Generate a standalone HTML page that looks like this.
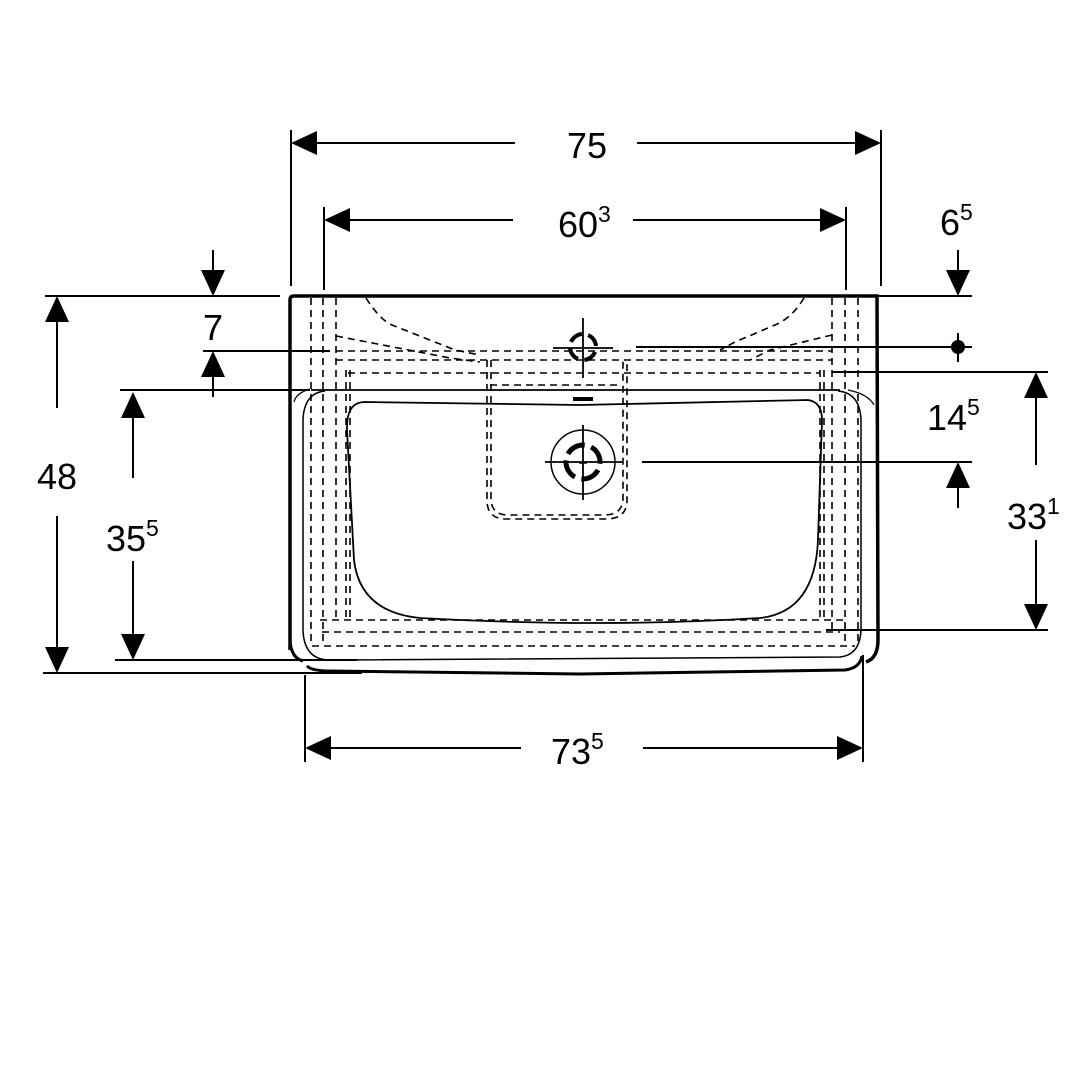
<!DOCTYPE html>
<html><head><meta charset="utf-8"><style>
html,body{margin:0;padding:0;background:#fff}
svg{display:block}
text{font-family:"Liberation Sans",Arial,sans-serif;fill:#000}
</style></head><body>
<svg width="1080" height="1080" viewBox="0 0 1080 1080" xmlns="http://www.w3.org/2000/svg">
<g stroke="#000" stroke-width="2" fill="none">
<!-- extension lines -->
<line x1="291" y1="130" x2="291" y2="286"/>
<line x1="881" y1="130" x2="881" y2="286"/>
<line x1="324" y1="207" x2="324" y2="290"/>
<line x1="846" y1="207" x2="846" y2="290"/>
<line x1="305" y1="675" x2="305" y2="762"/>
<line x1="863" y1="655" x2="863" y2="762"/>
<line x1="45" y1="296" x2="280" y2="296"/>
<line x1="878" y1="296" x2="972" y2="296"/>
<line x1="203" y1="351" x2="330" y2="351"/>
<line x1="636" y1="347" x2="972" y2="347"/>
<line x1="120" y1="390" x2="310" y2="390"/>
<line x1="832" y1="372" x2="1048" y2="372"/>
<line x1="642" y1="462" x2="972" y2="462"/>
<line x1="826" y1="630" x2="1048" y2="630"/>
<line x1="115" y1="660" x2="357" y2="660"/>
<line x1="43" y1="673" x2="362" y2="673"/>
<!-- dim lines -->
<line x1="317" y1="143" x2="515" y2="143"/><line x1="637" y1="143" x2="855" y2="143"/>
<line x1="350" y1="220" x2="513" y2="220"/><line x1="633" y1="220" x2="820" y2="220"/>
<line x1="331" y1="748" x2="521" y2="748"/><line x1="643" y1="748" x2="837" y2="748"/>
<line x1="57" y1="322" x2="57" y2="408"/><line x1="57" y1="516" x2="57" y2="647"/>
<line x1="133" y1="418" x2="133" y2="478"/><line x1="133" y1="561" x2="133" y2="634"/>
<line x1="213" y1="250" x2="213" y2="270"/><line x1="213" y1="377" x2="213" y2="397"/>
<line x1="958" y1="250" x2="958" y2="270"/><line x1="958" y1="488" x2="958" y2="508"/>
<line x1="958" y1="333" x2="958" y2="362"/>
<line x1="1036" y1="398" x2="1036" y2="465"/><line x1="1036" y1="540" x2="1036" y2="604"/>
</g>
<g fill="#000">
<polygon points="291,143 317,131 317,155"/><polygon points="881,143 855,131 855,155"/>
<polygon points="324,220 350,208 350,232"/><polygon points="846,220 820,208 820,232"/>
<polygon points="305,748 331,736 331,760"/><polygon points="863,748 837,736 837,760"/>
<polygon points="57,296 45,322 69,322"/><polygon points="57,673 45,647 69,647"/>
<polygon points="133,392 121,418 145,418"/><polygon points="133,660 121,634 145,634"/>
<polygon points="213,296 201,270 225,270"/><polygon points="213,351 201,377 225,377"/>
<polygon points="958,296 946,270 970,270"/><polygon points="958,462 946,488 970,488"/>
<polygon points="1036,372 1024,398 1048,398"/><polygon points="1036,630 1024,604 1048,604"/>
<circle cx="958" cy="347" r="7"/>
<rect x="573" y="397" width="20" height="4"/>
</g>
<!-- basin outline -->
<g stroke="#000" fill="none">
<path d="M290,650 L290,300 Q290,296 294,296 L877,296 L878,640 Q878,658 866,662" stroke-width="3.5"/>
<path d="M290,640 Q291,658 303,661" stroke-width="3"/>
<path d="M307,666 Q312,671 330,671 L580,674 L845,670 Q860,668 862,656" stroke-width="3"/>
<path d="M311,390 L840,390" stroke-width="1.8"/>
<path d="M325,391 Q304,393 303,420 L303,630 Q304,660 330,660 L840,657 Q860,655 861,630 L861,420 Q860,393 838,391" stroke-width="1.5"/>
<path d="M310,389 Q296,393 294,402" stroke-width="1.2"/>
<path d="M848,390 Q868,394 874,405" stroke-width="1.2"/>
<path d="M365,402 L580,405 L808,400 Q822,402 822,420 L818,540 Q815,612 760,618 Q600,628 420,618 Q360,612 354,560 L347,430 Q346,402 365,402 Z" stroke-width="1.8"/>
</g>
<!-- dashed hidden lines -->
<g stroke="#000" fill="none" stroke-width="1.6" stroke-dasharray="7,5">
<line x1="311" y1="298" x2="311" y2="645"/>
<line x1="323" y1="298" x2="323" y2="645"/>
<line x1="336" y1="298" x2="336" y2="620"/>
<line x1="346" y1="370" x2="346" y2="620"/>
<line x1="350" y1="370" x2="350" y2="620"/>
<line x1="832" y1="298" x2="832" y2="630"/>
<line x1="845" y1="298" x2="845" y2="645"/>
<line x1="858" y1="298" x2="858" y2="645"/>
<line x1="820" y1="370" x2="820" y2="620"/>
<line x1="824" y1="370" x2="824" y2="620"/>
<path d="M366,298 Q380,320 392,325 L455,350 L480,355"/>
<path d="M804,298 Q792,318 775,325 L735,342 L720,350"/>
<path d="M336,336 L450,358 L480,362"/>
<path d="M832,335 L770,350 L750,360"/>
<line x1="336" y1="351" x2="832" y2="351"/>
<line x1="336" y1="360" x2="832" y2="360"/>
<line x1="348" y1="373" x2="820" y2="373"/>
<line x1="490" y1="385" x2="622" y2="385"/>
<path d="M487,360 L487,500 Q487,519 506,519 L606,519 Q627,519 627,500 L627,360"/>
<path d="M491,360 L491,498 Q491,515 508,515 L604,515 Q623,515 623,498 L623,360"/>
<path d="M320,620 L845,620"/>
<path d="M322,632 L840,632"/>
<path d="M312,646 L855,646"/>
</g>
<!-- tap hole -->
<g stroke="#000" fill="none">
<circle cx="583" cy="347" r="13" stroke-width="4" stroke-dasharray="14,6.4" transform="rotate(22 583 347)"/>
<line x1="583" y1="318" x2="583" y2="378" stroke-width="1.8"/>
<line x1="553" y1="348" x2="613" y2="348" stroke-width="1.8"/>
<circle cx="583" cy="462" r="17" stroke-width="5" stroke-dasharray="20,6.7" transform="rotate(28 583 462)"/>
<circle cx="583" cy="462" r="32" stroke-width="1.5"/>
<line x1="583" y1="425" x2="583" y2="500" stroke-width="1.8"/>
<line x1="545" y1="462" x2="622" y2="462" stroke-width="1.8"/>
<line x1="579" y1="463" x2="587" y2="463" stroke-width="1.5"/>
</g>
<!-- labels -->
<g font-size="36">
<text x="587" y="158" text-anchor="middle">75</text>
<text x="558" y="237">60<tspan font-size="23" dy="-15">3</tspan></text>
<text x="940" y="235">6<tspan font-size="23" dy="-15">5</tspan></text>
<text x="213" y="340" text-anchor="middle">7</text>
<text x="57" y="489" text-anchor="middle">48</text>
<text x="106" y="551">35<tspan font-size="23" dy="-15">5</tspan></text>
<text x="927" y="430">14<tspan font-size="23" dy="-15">5</tspan></text>
<text x="1007" y="529">33<tspan font-size="23" dy="-15">1</tspan></text>
<text x="551" y="764">73<tspan font-size="23" dy="-15">5</tspan></text>
</g>
</svg>
</body></html>
